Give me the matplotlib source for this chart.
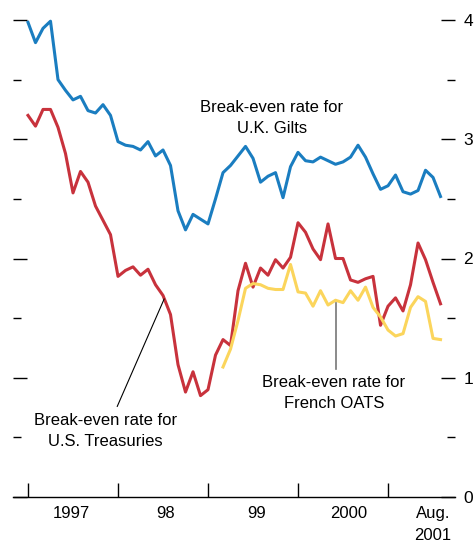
import numpy as np
import matplotlib.pyplot as plt

plt.rcParams['font.family'] = ['Liberation Sans', 'DejaVu Sans']

# monthly, Jan 1997 .. Aug 2001
uk_gilts = [3.98, 3.81, 3.93, 3.99, 3.50, 3.41, 3.33, 3.36, 3.24, 3.22,
            3.29, 3.20, 2.98, 2.95, 2.94, 2.91, 2.98, 2.86, 2.91, 2.78,
            2.40, 2.24, 2.37, 2.33, 2.29, 2.50, 2.72, 2.78, 2.86, 2.94,
            2.84, 2.64, 2.69, 2.72, 2.51, 2.77, 2.89, 2.82, 2.81, 2.85,
            2.82, 2.79, 2.81, 2.85, 2.95, 2.85, 2.71, 2.58, 2.61, 2.70,
            2.56, 2.54, 2.57, 2.74, 2.68, 2.52]
us_treasuries = [3.20, 3.11, 3.25, 3.25, 3.10, 2.88, 2.55, 2.73, 2.64, 2.44,
                 2.32, 2.20, 1.85, 1.90, 1.93, 1.86, 1.91, 1.78, 1.69, 1.53,
                 1.11, 0.88, 1.05, 0.85, 0.90, 1.19, 1.32, 1.27, 1.73, 1.96,
                 1.76, 1.92, 1.86, 1.99, 1.92, 2.01, 2.30, 2.22, 2.08, 1.99,
                 2.29, 2.00, 2.00, 1.82, 1.80, 1.83, 1.85, 1.44, 1.60, 1.67,
                 1.56, 1.78, 2.13, 1.99, 1.80, 1.62]
french_oats = [1.09, 1.24, 1.48, 1.75, 1.79, 1.78, 1.75, 1.74, 1.74, 1.95,
               1.72, 1.71, 1.60, 1.73, 1.61, 1.65, 1.63, 1.73, 1.65, 1.76,
               1.59, 1.51, 1.40, 1.35, 1.37, 1.59, 1.68, 1.64, 1.33, 1.32]
oats_start = 26

year_labels = ['1997', '98', '99', '2000', 'Aug.\n2001']
year_label_pos = [5.8, 18.3, 30.5, 42.8, 54.0]

months = np.arange(len(uk_gilts))
oats_months = np.arange(oats_start, oats_start + len(french_oats))

fig = plt.figure(figsize=(4.76, 5.49), dpi=100)
ax = fig.add_axes([13 / 476, 52 / 549, 442 / 476, 477 / 549])

ax.plot(months, uk_gilts, color='#1a7dc0', lw=2.2, clip_on=False)
ax.plot(months, us_treasuries, color='#c8323c', lw=2.2, clip_on=False)
ax.plot(oats_months, french_oats, color='#fbd55c', lw=2.2, clip_on=False)

ax.set_xlim(-2, 56.93)
ax.set_ylim(0, 4)

for s in ['top', 'left', 'right']:
    ax.spines[s].set_visible(False)
ax.spines['bottom'].set_linewidth(1.0)

# y ticks: unlabeled on left, labeled on right
ax.set_yticks([0, 1, 2, 3, 4])
ax.set_yticks([0.5, 1.5, 2.5, 3.5], minor=True)
ax.tick_params(axis='y', which='both', direction='in', left=True, right=True,
               labelleft=False, labelright=True, labelsize=12.5, pad=6)
ax.tick_params(axis='y', which='major', length=10, width=1)
ax.tick_params(axis='y', which='minor', length=6, width=1)

# x ticks at January of each year, labels centred in the year
ax.set_xticks([0, 12, 24, 36, 48])
ax.set_xticklabels([])
ax.tick_params(axis='x', which='major', direction='in', length=10, width=1)
for lab, pos in zip(year_labels, year_label_pos):
    ax.text(pos, -0.019, lab, ha='center', va='top', fontsize=12,
            linespacing=1.6, transform=ax.get_xaxis_transform())

ax.text(32.5, 3.18, 'Break-even rate for\nU.K. Gilts', ha='center', va='center',
        fontsize=12, linespacing=1.5)
ax.text(10.3, 0.55, 'Break-even rate for\nU.S. Treasuries', ha='center', va='center',
        fontsize=12, linespacing=1.5)
ax.text(40.8, 0.87, 'Break-even rate for\nFrench OATS', ha='center', va='center',
        fontsize=12, linespacing=1.5)

ax.plot([11.9, 18.15], [0.76, 1.66], color='black', lw=0.8)
ax.plot([41.1, 41.1], [1.07, 1.63], color='#777777', lw=1.2)

fig.savefig('out.png', dpi=100)
